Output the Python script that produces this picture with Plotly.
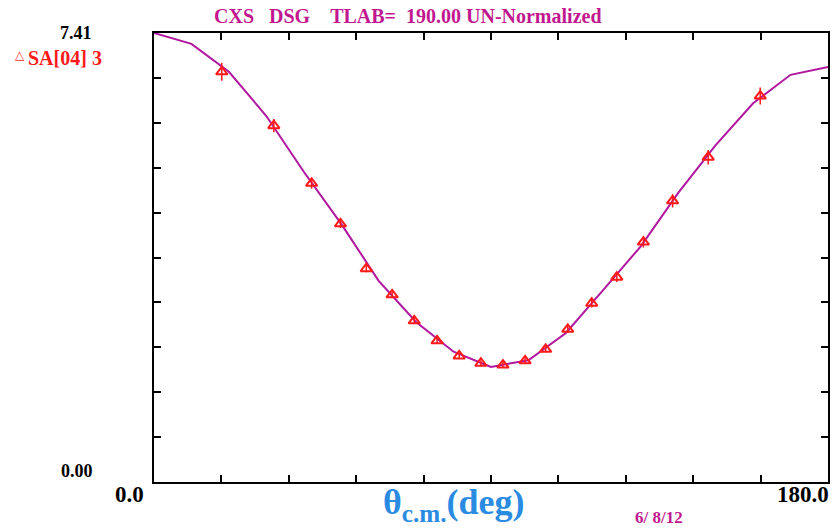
import plotly.graph_objects as go

# Measured differential cross section (SA[04] set 3)
theta_exp = [18.1, 32.0, 42.1, 49.8, 56.7, 63.6, 69.5, 75.6, 81.5, 87.3,
             93.2, 99.1, 104.6, 110.5, 116.9, 123.6, 130.7, 138.5, 148.0, 161.9]
dsg_exp = [6.77, 5.88, 4.93, 4.26, 3.52, 3.09, 2.66, 2.33, 2.08, 1.96,
           1.93, 2.00, 2.19, 2.52, 2.95, 3.38, 3.96, 4.64, 5.36, 6.37]
dsg_err = [0.15, 0.11, 0.09, 0.07, 0.06, 0.05, 0.05, 0.05, 0.05, 0.05,
           0.05, 0.05, 0.05, 0.06, 0.07, 0.08, 0.09, 0.11, 0.12, 0.14]

# Partial-wave solution, tabulated every 10 degrees
theta_fit = [0, 10, 20, 30, 40, 50, 60, 70, 80, 90,
             100, 110, 120, 130, 140, 150, 160, 170, 180]
dsg_fit = [7.41, 7.23, 6.77, 6.04, 5.12, 4.26, 3.32, 2.64, 2.15, 1.90,
           2.01, 2.46, 3.17, 3.89, 4.77, 5.56, 6.25, 6.72, 6.85]

x_range = [0.0, 180.0]
y_range = [0.0, 7.41]
x_tick_labels = ["0.0", "180.0"]
y_tick_labels = ["0.00", "7.41"]

title_text = "CXS&nbsp;&nbsp;&nbsp;DSG&nbsp;&nbsp;&nbsp;&nbsp;TLAB=&nbsp;&nbsp;190.00 UN-Normalized"
legend_text = "SA[04] 3"
date_text = "6/&nbsp;8/12"

MAG = "#c2178f"
LINE = "#b1169f"
RED = "#ff1a1a"
SERIF = "Liberation Serif, DejaVu Serif, serif"

fig = go.Figure()

fig.add_trace(go.Scatter(
    x=theta_fit, y=dsg_fit, mode="lines",
    line=dict(color=LINE, width=2),
    showlegend=False, hoverinfo="skip",
))

fig.add_trace(go.Scatter(
    x=theta_exp, y=dsg_exp, mode="markers",
    marker=dict(symbol="triangle-up-open", size=10, color=RED,
                line=dict(color=RED, width=2)),
    error_y=dict(type="data", array=dsg_err, color=RED, thickness=1.5, width=0),
    showlegend=False,
))

axis_common = dict(
    showgrid=False, zeroline=False, showline=True, linecolor="black",
    linewidth=2, mirror="ticks", ticks="inside", ticklen=7, tickwidth=2,
    tickcolor="black", showticklabels=False, fixedrange=True,
)

fig.update_xaxes(range=x_range, tick0=0, dtick=18, **axis_common)
fig.update_yaxes(range=y_range, tick0=0, dtick=0.741, **axis_common)


def px(xpix):
    return (xpix - 154) / 676


def py(ypix):
    return (482 - ypix) / 449


annotations = [
    dict(x=px(409), y=py(16), text=f"<b>{title_text}</b>", xanchor="center",
         yanchor="middle", font=dict(family=SERIF, size=20, color=MAG)),
    dict(x=px(94), y=py(33), text=f"<b>{y_tick_labels[1]}</b>", xanchor="right",
         yanchor="middle", font=dict(family=SERIF, size=18, color="black")),
    dict(x=px(95), y=py(471), text=f"<b>{y_tick_labels[0]}</b>", xanchor="right",
         yanchor="middle", font=dict(family=SERIF, size=18, color="black")),
    dict(x=px(146), y=py(494), text=f"<b>{x_tick_labels[0]}</b>", xanchor="right",
         yanchor="middle", font=dict(family=SERIF, size=23, color="black")),
    dict(x=px(833), y=py(494), text=f"<b>{x_tick_labels[1]}</b>", xanchor="right",
         yanchor="middle", font=dict(family=SERIF, size=23, color="black")),
    dict(x=px(13), y=py(55), text="<b>&#9651;</b>", xanchor="left",
         yanchor="middle", font=dict(family="DejaVu Sans", size=12, color=RED)),
    dict(x=px(26), y=py(58), text=f"<b>{legend_text}</b>", xanchor="left",
         yanchor="middle", font=dict(family=SERIF, size=20, color=RED)),
    dict(x=px(455), y=py(504), text="<b>θ<sub>c.m.</sub>(deg)</b>", xanchor="center",
         yanchor="middle", font=dict(family=SERIF, size=36, color="#2a8be2")),
    dict(x=px(660), y=py(517), text=f"<b>{date_text}</b>", xanchor="center",
         yanchor="middle", font=dict(family=SERIF, size=17, color=MAG)),
]
for a in annotations:
    a.update(xref="paper", yref="paper", showarrow=False)

fig.update_layout(
    width=832, height=530,
    margin=dict(l=154, r=2, t=33, b=48),
    plot_bgcolor="white", paper_bgcolor="white",
    annotations=annotations,
)

fig.write_html("out.html")
